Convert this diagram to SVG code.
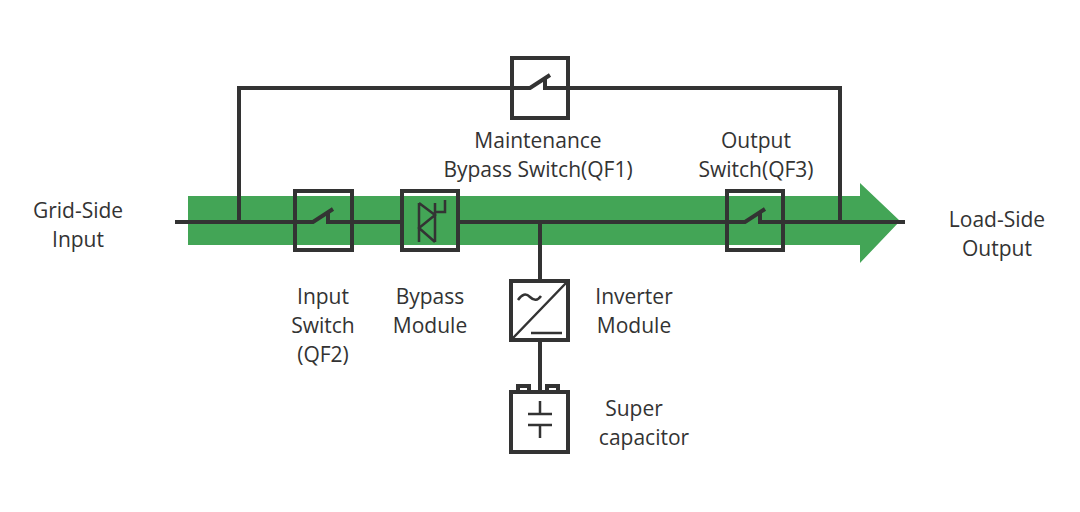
<svg xmlns="http://www.w3.org/2000/svg" width="1080" height="512" viewBox="0 0 1080 512">
<style>
.l{stroke:#333;stroke-width:4;fill:none}
.t{stroke:#333;stroke-width:2.5;fill:none}
.b{stroke:#333;stroke-width:4;fill:#fff;fill-opacity:0}
text{font-family:"Open Sans","Liberation Sans",sans-serif;font-size:21px;fill:#333;text-anchor:middle}
</style>
<rect width="1080" height="512" fill="#fff"/>
<polygon points="188,196 860,196 860,183 900,221 860,263 860,245 188,245" fill="#43a556"/>
<g id="connectors">
<path class="l" d="M175 222H295M352 222H401M458 222H727M783 222H905"/>
<path class="l" d="M239 222V88H512M568 88H840V222"/>
<path class="l" d="M540 222V281M540 340V390"/>
</g>
<g id="qf2"><rect class="b" x="295" y="191" width="57" height="59"/><path class="l" d="M295 222H313L333 209M328 212V222H352"/></g>
<g id="bypass"><rect class="b" x="402" y="191" width="56" height="59"/>
<path class="t" d="M419 203V242M419 203L435 215L419 228L435 242M435 203V242M435 215V212M435 212L445 212V200"/></g>
<g id="qf3"><rect class="b" x="727" y="191" width="56" height="59"/><path class="l" d="M727 222H745L765 209M760 212V222H783"/></g>
<g id="qf1"><rect class="b" x="512" y="58" width="56" height="60"/><path class="l" d="M512 88H530L550 75M545 78V88H568"/></g>
<g id="inverter"><rect class="b" x="511" y="281" width="57" height="59"/><path class="t" d="M513 338L566 283M531 333H562"/><path class="t" d="M518 300Q524 291 530 297T541 296"/></g>
<g id="supercap"><rect class="b" x="518" y="386" width="11" height="6"/><rect class="b" x="547" y="386" width="11" height="6"/>
<rect class="b" x="511" y="392" width="57" height="60"/><path class="t" d="M540 401V414M528 414H552M528 425H552M540 425V438"/></g>
<g id="labels">
<text x="78" y="218">Grid-Side</text><text x="78" y="247">Input</text>
<text x="997" y="227">Load-Side</text><text x="997" y="256">Output</text>
<text x="538" y="148">Maintenance</text><text x="538" y="177">Bypass Switch(QF1)</text>
<text x="756" y="148">Output</text><text x="756" y="177">Switch(QF3)</text>
<text x="323" y="304">Input</text><text x="323" y="333">Switch</text><text x="323" y="362">(QF2)</text>
<text x="430" y="304">Bypass</text><text x="430" y="333">Module</text>
<text x="634" y="304">Inverter</text><text x="634" y="333">Module</text>
<text x="634" y="416">Super</text><text x="644" y="445">capacitor</text>
</g>
</svg>
